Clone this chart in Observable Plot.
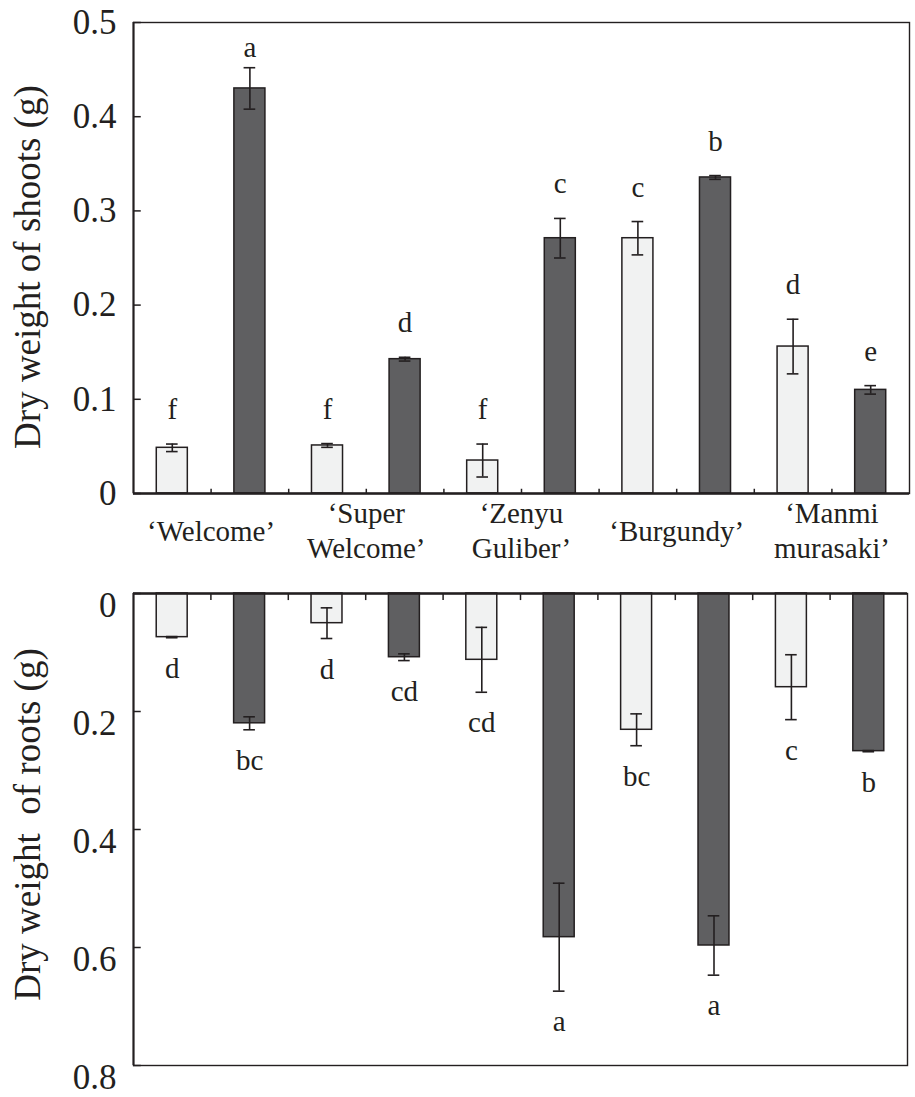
<!DOCTYPE html>
<html><head><meta charset="utf-8">
<script src="https://cdn.jsdelivr.net/npm/d3@7"></script>
<script src="https://cdn.jsdelivr.net/npm/@observablehq/plot@0.6"></script>
<style>
html,body{margin:0;padding:0;background:#fff;}
#chart svg{display:block;}
#chart svg text{white-space:pre;font-family:"Liberation Serif","Times New Roman",serif !important;}
</style></head><body><div id="chart"></div>
<script>
// ---- data ----
const cultivars = ["‘Welcome’", "‘Super\nWelcome’", "‘Zenyu\nGuliber’", "‘Burgundy’", "‘Manmi\nmurasaki’"];
const treatments = ["light", "dark"];

const shootMeanLight = [0.0485, 0.051, 0.035, 0.271, 0.156];
const shootSeLight   = [0.004, 0.002, 0.0175, 0.0177, 0.029];
const shootMeanDark  = [0.430, 0.1426, 0.271, 0.3355, 0.110];
const shootSeDark    = [0.022, 0.002, 0.021, 0.002, 0.0045];
const shootLetterLight = ["f", "f", "f", "c", "d"];
const shootLetterDark  = ["a", "d", "c", "b", "e"];

const rootMeanLight = [0.074, 0.0503, 0.1124, 0.231, 0.1588];
const rootSeLight   = [0.001, 0.026, 0.055, 0.027, 0.055];
const rootMeanDark  = [0.220, 0.108, 0.5825, 0.5966, 0.2672];
const rootSeDark    = [0.011, 0.0057, 0.0915, 0.0503, 0.001];
const rootLetterLight = ["d", "d", "cd", "bc", "c"];
const rootLetterDark  = ["bc", "cd", "a", "a", "b"];

const shootTicks = [0, 0.1, 0.2, 0.3, 0.4, 0.5];
const shootTickLabels = ["0", "0.1", "0.2", "0.3", "0.4", "0.5"];
const rootTicks = [0, 0.2, 0.4, 0.6, 0.8];
const rootTickLabels = ["0", "0.2", "0.4", "0.6", "0.8"];

const shootTitle = "Dry weight of shoots (g)";
const rootTitle = "Dry weight  of roots (g)";

// ---- build tables ----
function rows(mA, sA, lA, mB, sB, lB) {
  return cultivars.flatMap((c, g) => [
    {cultivar: c, treatment: treatments[0], pos: g * 2, mean: mA[g], se: sA[g], letter: lA[g]},
    {cultivar: c, treatment: treatments[1], pos: g * 2 + 1, mean: mB[g], se: sB[g], letter: lB[g]}
  ]);
}
const shoots = rows(shootMeanLight, shootSeLight, shootLetterLight, shootMeanDark, shootSeDark, shootLetterDark);
const roots = rows(rootMeanLight, rootSeLight, rootLetterLight, rootMeanDark, rootSeDark, rootLetterDark);
const groups = cultivars.map((c, g) => ({cultivar: c, pos: g * 2 + 0.5}));
const boundaries = d3.range(1, cultivars.length * 2).map(i => i - 0.5);

const ink = "#231f20";
const font = "Liberation Serif";
const halfBar = 0.2, halfCap = 0.075, inTick = 0.1;

function panel(o) {
  const marks = [
    Plot.rectY(o.data, {x1: d => d.pos - halfBar, x2: d => d.pos + halfBar, y1: 0, y2: "mean",
      fill: "treatment", stroke: ink, strokeWidth: 1.5}),
    Plot.ruleX(o.data, {x: "pos", y1: d => d.mean - d.se, y2: d => d.mean + d.se, stroke: ink, strokeWidth: 1.6}),
    Plot.ruleY(o.data, {y: d => d.mean + d.se, x1: d => d.pos - halfCap, x2: d => d.pos + halfCap, stroke: ink, strokeWidth: 1.6}),
    Plot.ruleY(o.data, {y: d => d.mean - d.se, x1: d => d.pos - halfCap, x2: d => d.pos + halfCap, stroke: ink, strokeWidth: 1.6}),
    Plot.text(o.data, {x: "pos", y: d => Math.min(d.mean + d.se + o.letterGap, o.letterMax), text: "letter",
      lineAnchor: o.letterAnchor, fontSize: 29, fontFamily: font, fill: ink}),
    Plot.frame({stroke: ink, strokeWidth: 1.4}),
    Plot.ruleY([0], {stroke: ink, strokeWidth: 2.4}),
    Plot.ruleX([-0.5], {stroke: ink, strokeWidth: 2}),
    Plot.ruleX(boundaries, {x: d => d, y1: 0, y2: o.tickLen, stroke: ink, strokeWidth: 1.5}),
    Plot.ruleY(o.ticks, {y: d => d, x1: -0.5, x2: -0.5 + inTick, stroke: ink, strokeWidth: 1.5}),
    Plot.axisY({ticks: o.ticks, tickFormat: (d, i) => o.tickLabels[i], tickSize: 0, tickPadding: 17,
      fontSize: 35, fontFamily: font, dy: o.tickDy, label: null, fill: ink}),
    Plot.text([o.title], {frameAnchor: "left", textAnchor: "middle", rotate: -90, dx: -105, dy: o.titleDy,
      fontSize: 37, fontFamily: font, fill: ink})
  ];
  if (o.names) marks.push(
    Plot.text(groups, {x: "pos", y: 0, text: "cultivar", dy: 35.5, lineHeight: 1.24, lineAnchor: "middle",
      fontSize: 29, fontFamily: font, fill: ink})
  );
  return Plot.plot({
    width: 915, height: o.height,
    marginLeft: 133, marginRight: o.marginRight, marginTop: o.marginTop, marginBottom: o.marginBottom,
    style: {fontFamily: font, background: "#fff", color: ink},
    x: {domain: [-0.5, cultivars.length * 2 - 0.5], axis: null},
    y: {domain: o.domain, reverse: o.reverse, axis: null},
    color: {domain: treatments, range: ["#f1f2f2", "#5f5f61"]},
    marks
  });
}

const shootChart = panel({data: shoots, domain: [0, 0.5], reverse: false, ticks: shootTicks, tickLabels: shootTickLabels,
  title: shootTitle, height: 575, marginTop: 22, marginBottom: 82, marginRight: 6, tickDy: 0, titleDy: 9,
  letterGap: 0.0265, letterMax: 0.463, letterAnchor: "bottom", tickLen: 0.0045, names: true});
const rootChart = panel({data: roots, domain: [0, 0.8], reverse: true, ticks: rootTicks, tickLabels: rootTickLabels,
  title: rootTitle, height: 522, marginTop: 18, marginBottom: 32, marginRight: 8, tickDy: 12, titleDy: -5,
  letterGap: 0.0678, letterMax: 0.78, letterAnchor: "bottom", tickLen: 0.012, names: false});

document.getElementById("chart").append(shootChart, rootChart);
</script></body></html>
